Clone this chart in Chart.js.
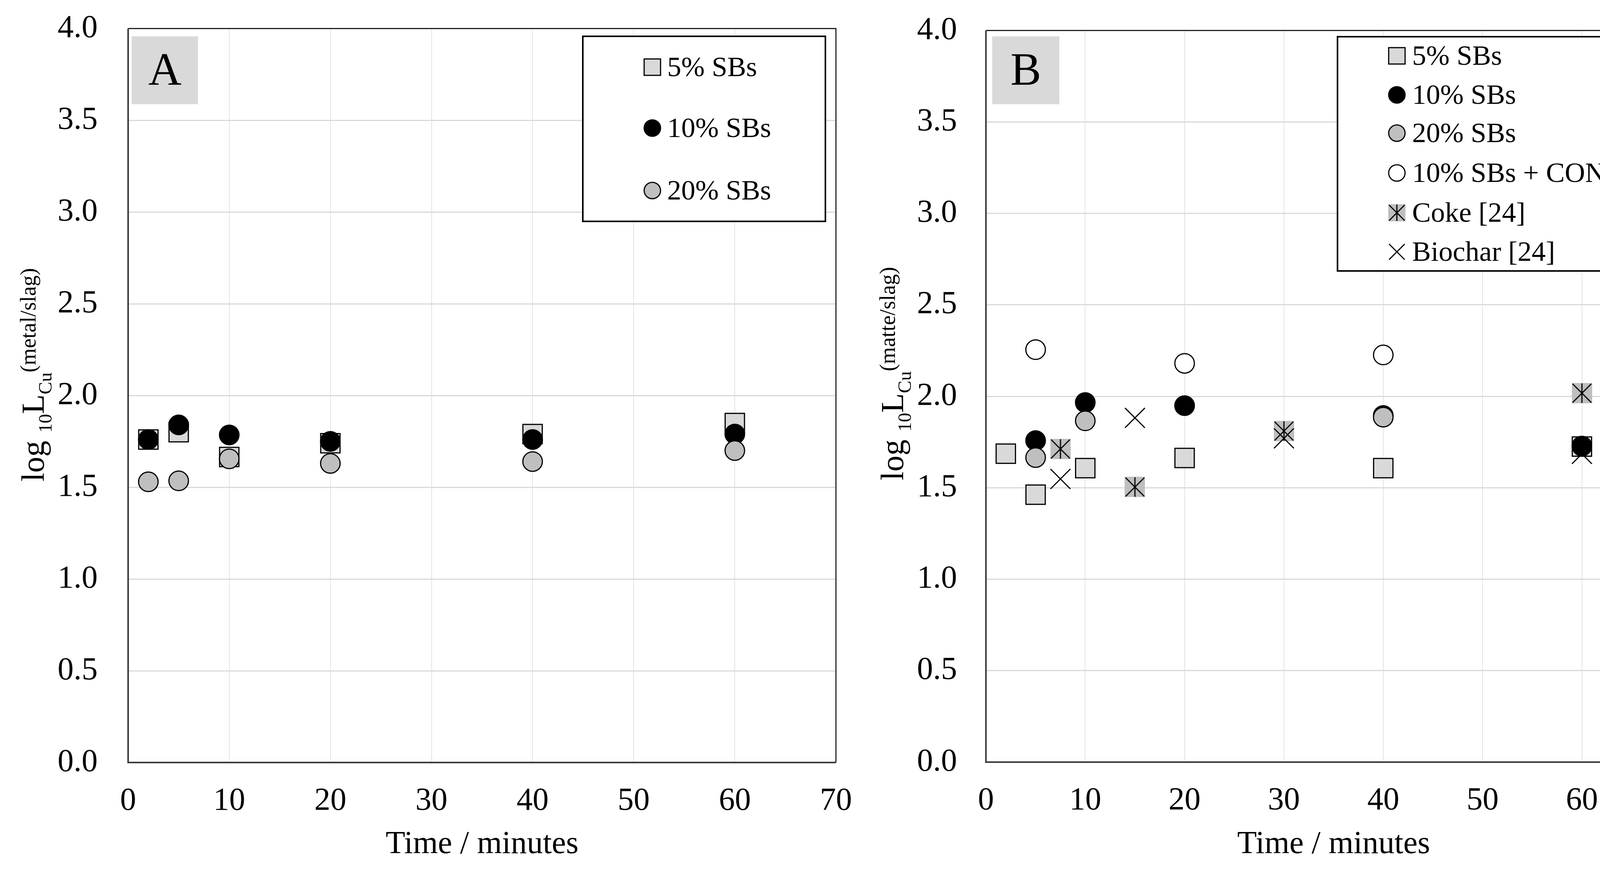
<!DOCTYPE html>
<html>
<head>
<meta charset="utf-8">
<script src="https://cdn.jsdelivr.net/npm/chart.js@4.4.1/dist/chart.umd.min.js"></script>
<style>
  html, body { margin: 0; padding: 0; background: #fff; }
  #chartA { position: absolute; left: 0; top: 0; }
  #chartB { position: absolute; left: 2200px; top: 0; }
</style>
</head>
<body>
<canvas id="chartA" width="2200" height="2236"></canvas>
<canvas id="chartB" width="2188" height="2236"></canvas>
<script>
// ---- data ----
const xTicks = [0, 10, 20, 30, 40, 50, 60, 70];
const yTicks = [0, 0.5, 1, 1.5, 2, 2.5, 3, 3.5, 4];

// panel A (metal/slag)
const timeA = [2, 5, 10, 20, 40, 60];
const a5 = [1.76, 1.80, 1.665, 1.74, 1.79, 1.85];
const a10 = [1.76, 1.84, 1.785, 1.75, 1.76, 1.79];
const a20 = [1.53, 1.535, 1.655, 1.63, 1.64, 1.70];

// panel B (matte/slag)
const timeB5 = [2, 5, 10, 20, 40, 60];
const b5 = [1.686, 1.462, 1.607, 1.663, 1.607, 1.725];
const timeB10 = [5, 10, 20, 40, 60];
const b10 = [1.758, 1.966, 1.949, 1.895, 1.728];
const timeB20 = [5, 10, 40];
const b20 = [1.665, 1.866, 1.886];
const timeConc = [5, 20, 40];
const bConc = [2.255, 2.18, 2.226];
const timeRef = [7.5, 15, 30, 60];
const coke = [1.712, 1.504, 1.81, 2.017];
const biochar = [1.548, 1.882, 1.77, 1.685];

const SERIF = "'Liberation Serif', 'Times New Roman', serif";
Chart.defaults.font.family = SERIF;
Chart.defaults.color = '#000';

function pts(xs, ys) {
  return xs.map((x, i) => ({ x: x, y: ys[i] }));
}

// grey square with asterisk, used for the coke series
function makeCoke(size) {
  const c = document.createElement('canvas');
  c.width = size;
  c.height = size;
  const g = c.getContext('2d');
  g.fillStyle = '#bfbfbf';
  g.fillRect(0, 0, size, size);
  g.strokeStyle = '#000';
  g.lineWidth = 3;
  g.beginPath();
  g.moveTo(size / 2, 1); g.lineTo(size / 2, size - 1);
  g.moveTo(2, 2); g.lineTo(size - 2, size - 2);
  g.moveTo(size - 2, 2); g.lineTo(2, size - 2);
  g.stroke();
  return c;
}
const cokeMark = makeCoke(52);
const cokeLegend = makeCoke(44);

function series(label, data, style, fill, radius, order) {
  return {
    label: label,
    data: data,
    pointStyle: style,
    pointRadius: radius,
    pointHoverRadius: radius,
    pointBackgroundColor: fill,
    pointBorderColor: '#000',
    pointBorderWidth: 3,
    order: order
  };
}

function legendMarker(ctx, ds, x, y) {
  ctx.save();
  ctx.lineWidth = 3;
  ctx.strokeStyle = '#000';
  ctx.fillStyle = ds.pointBackgroundColor;
  if (ds.pointStyle === 'rect') {
    ctx.fillRect(x - 21, y - 21, 42, 42);
    ctx.strokeRect(x - 21, y - 21, 42, 42);
  } else if (ds.pointStyle === 'circle') {
    ctx.beginPath();
    ctx.arc(x, y, 21, 0, Math.PI * 2);
    ctx.fill();
    ctx.stroke();
  } else if (ds.pointStyle === 'crossRot') {
    ctx.beginPath();
    ctx.moveTo(x - 20, y - 20); ctx.lineTo(x + 20, y + 20);
    ctx.moveTo(x + 20, y - 20); ctx.lineTo(x - 20, y + 20);
    ctx.stroke();
  } else {
    ctx.drawImage(cokeLegend, x - 22, y - 22);
  }
  ctx.restore();
}

const decorPlugin = {
  id: 'decor',
  afterDraw(chart, args, opts) {
    const ctx = chart.ctx;
    const a = chart.chartArea;
    ctx.save();

    // plot frame
    ctx.strokeStyle = '#000';
    ctx.lineWidth = 2.5;
    ctx.beginPath();
    ctx.moveTo(a.left, a.top); ctx.lineTo(a.right, a.top); ctx.lineTo(a.right, a.bottom);
    ctx.stroke();
    ctx.strokeStyle = '#3a3a3a';
    ctx.lineWidth = 4;
    ctx.beginPath();
    ctx.moveTo(a.left, a.top); ctx.lineTo(a.left, a.bottom); ctx.lineTo(a.right, a.bottom);
    ctx.stroke();

    // panel letter
    const p = opts.panel;
    ctx.fillStyle = '#d9d9d9';
    ctx.fillRect(p.x, p.y, p.w, p.h);
    ctx.fillStyle = '#000';
    ctx.font = '118px ' + SERIF;
    ctx.textAlign = 'center';
    ctx.textBaseline = 'middle';
    ctx.fillText(p.text, p.x + p.w / 2, p.y + p.h / 2 + 6);

    // legend box
    const L = opts.legend;
    ctx.fillStyle = '#fff';
    ctx.fillRect(L.x, L.y, L.w, L.h);
    ctx.strokeStyle = '#000';
    ctx.lineWidth = 4;
    ctx.strokeRect(L.x, L.y, L.w, L.h);
    ctx.font = '72px ' + SERIF;
    ctx.textAlign = 'left';
    ctx.textBaseline = 'middle';
    chart.data.datasets.forEach((ds, i) => {
      const y = L.rows[i];
      legendMarker(ctx, ds, L.markerX, y);
      ctx.fillStyle = '#000';
      ctx.fillText(ds.label, L.textX, y + 4);
    });

    // y axis title with sub/superscripts
    const t = opts.yTitle;
    ctx.translate(t.x, t.y);
    ctx.rotate(-Math.PI / 2);
    ctx.textAlign = 'left';
    ctx.textBaseline = 'alphabetic';
    let total = 0;
    t.parts.forEach(pt => {
      ctx.font = pt.size + 'px ' + SERIF;
      total += ctx.measureText(pt.text).width;
    });
    let cx = -total / 2;
    t.parts.forEach(pt => {
      ctx.font = pt.size + 'px ' + SERIF;
      ctx.fillStyle = '#000';
      ctx.fillText(pt.text, cx, pt.dy);
      cx += ctx.measureText(pt.text).width;
    });
    ctx.restore();
  }
};

function axes(yWidth, xHeight, yPad) {
  return {
    x: {
      type: 'linear',
      min: 0,
      max: 70,
      afterFit: (s) => {
        s.height = xHeight;
        s.paddingLeft = 0;
        s.paddingRight = 0;
      },
      afterBuildTicks: (s) => { s.ticks = xTicks.map(v => ({ value: v })); },
      ticks: { font: { size: 82 }, padding: 50, color: '#000' },
      grid: { color: '#dfe4ec', lineWidth: 2, drawTicks: false },
      border: { display: false },
      title: {
        display: true,
        text: 'Time / minutes',
        font: { size: 82 },
        color: '#000',
        padding: { top: 0, bottom: 23 }
      }
    },
    y: {
      type: 'linear',
      min: 0,
      max: 4,
      afterFit: (s) => {
        s.width = yWidth;
        s.paddingTop = 0;
        s.paddingBottom = 0;
      },
      afterBuildTicks: (s) => { s.ticks = yTicks.map(v => ({ value: v })); },
      ticks: { font: { size: 82 }, padding: yPad, color: '#000', callback: (v) => Number(v).toFixed(1) },
      grid: { color: '#d9d9d9', lineWidth: 3, drawTicks: false },
      border: { display: false }
    }
  };
}

function titleParts(sup) {
  return [
    { text: 'log ', size: 82, dy: 0 },
    { text: '10', size: 48, dy: 20 },
    { text: 'L', size: 82, dy: 0 },
    { text: 'Cu', size: 48, dy: 20 },
    { text: sup, size: 56, dy: -21 }
  ];
}

new Chart(document.getElementById('chartA'), {
  type: 'scatter',
  data: {
    datasets: [
      series('5% SBs', pts(timeA, a5), 'rect', '#d9d9d9', 35, 3),
      series('10% SBs', pts(timeA, a10), 'circle', '#000', 25, 2),
      series('20% SBs', pts(timeA, a20), 'circle', '#bfbfbf', 25, 1)
    ]
  },
  options: {
    responsive: false,
    devicePixelRatio: 1,
    animation: false,
    layout: { autoPadding: false, padding: { left: 0, right: 60, top: 73, bottom: 0 } },
    scales: axes(328, 283, 78),
    plugins: {
      legend: { display: false },
      tooltip: { enabled: false },
      decor: {
        panel: { x: 337, y: 93, w: 170, h: 174, text: 'A' },
        legend: { x: 1492, y: 93, w: 621, h: 474, rows: [172, 328, 488], markerX: 1670, textX: 1708 },
        yTitle: { x: 112, y: 960, parts: titleParts('(metal/slag)') }
      }
    }
  },
  plugins: [decorPlugin]
});

new Chart(document.getElementById('chartB'), {
  type: 'scatter',
  data: {
    datasets: [
      series('5% SBs', pts(timeB5, b5), 'rect', '#d9d9d9', 35, 6),
      series('10% SBs', pts(timeB10, b10), 'circle', '#000', 25, 5),
      series('20% SBs', pts(timeB20, b20), 'circle', '#bfbfbf', 25, 4),
      series('10% SBs + CONC', pts(timeConc, bConc), 'circle', '#fff', 25, 3),
      series('Coke [24]', pts(timeRef, coke), cokeMark, '#bfbfbf', 26, 2),
      series('Biochar [24]', pts(timeRef, biochar), 'crossRot', '#000', 36, 1)
    ]
  },
  options: {
    responsive: false,
    devicePixelRatio: 1,
    animation: false,
    layout: { autoPadding: false, padding: { left: 0, right: 84, top: 78, bottom: 0 } },
    scales: axes(324, 284, 74),
    plugins: {
      legend: { display: false },
      tooltip: { enabled: false },
      decor: {
        panel: { x: 340, y: 93, w: 172, h: 174, text: 'B' },
        legend: { x: 1224, y: 94, w: 854, h: 600, rows: [143, 243, 341, 443, 545, 645], markerX: 1376, textX: 1415 },
        yTitle: { x: 112, y: 957, parts: titleParts('(matte/slag)') }
      }
    }
  },
  plugins: [decorPlugin]
});
</script>
</body>
</html>
